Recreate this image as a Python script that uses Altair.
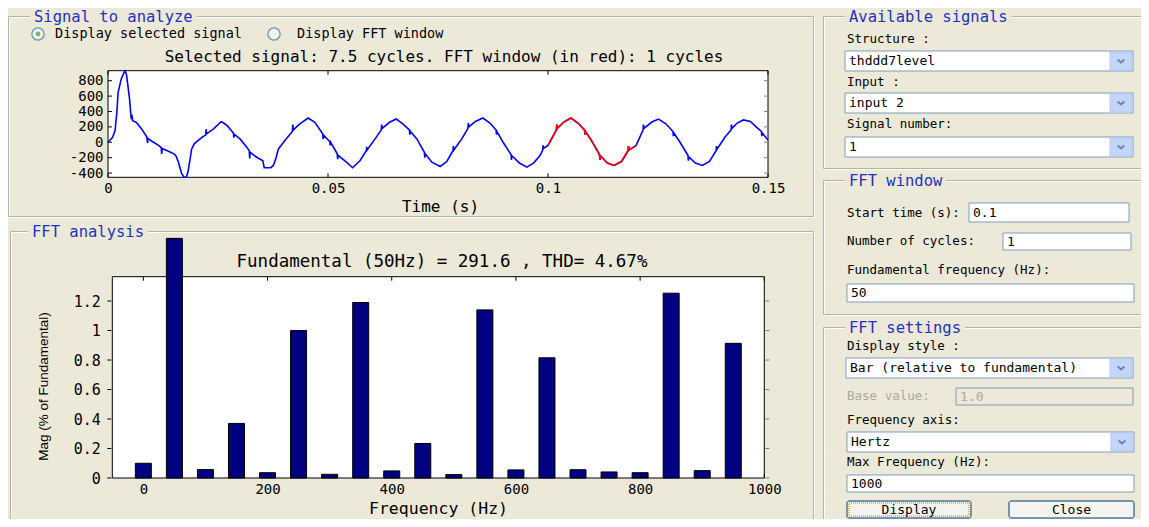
import altair as alt
import pandas as pd

# ---------------- data ----------------
sig_t = [0.0000, 0.0010, 0.0016, 0.0020, 0.0023, 0.0030, 0.0036, 0.0039, 0.0042, 0.0046,
         0.0049, 0.0051, 0.0053, 0.0054, 0.0056, 0.0065, 0.0078, 0.0088, 0.0090, 0.0091,
         0.0098, 0.0115, 0.0121, 0.0122, 0.0123, 0.0135, 0.0150, 0.0155, 0.0160, 0.0167,
         0.0173, 0.0178, 0.0182, 0.0186, 0.0190, 0.0196, 0.0203, 0.0215, 0.0222, 0.0223,
         0.0224, 0.0240, 0.0257, 0.0263, 0.0272, 0.0285, 0.0286, 0.0287, 0.0300, 0.0315,
         0.0321, 0.0322, 0.0323, 0.0338, 0.0352, 0.0355, 0.0370, 0.0376, 0.0382, 0.0387,
         0.0402, 0.0419, 0.0420, 0.0421, 0.0436, 0.0455, 0.0470, 0.0488, 0.0489, 0.0490,
         0.0504, 0.0505, 0.0506, 0.0521, 0.0522, 0.0523, 0.0542, 0.0556, 0.0573, 0.0587,
         0.0588, 0.0589, 0.0607, 0.0621, 0.0622, 0.0623, 0.0640, 0.0655, 0.0670, 0.0685,
         0.0686, 0.0687, 0.0702, 0.0719, 0.0720, 0.0721, 0.0736, 0.0755, 0.0770, 0.0784,
         0.0785, 0.0786, 0.0804, 0.0818, 0.0819, 0.0820, 0.0835, 0.0852, 0.0868, 0.0882,
         0.0883, 0.0884, 0.0898, 0.0916, 0.0917, 0.0918, 0.0935, 0.0952, 0.0967, 0.0982,
         0.0988, 0.0989, 0.0990, 0.1000, 0.1019, 0.1020, 0.1021, 0.1035, 0.1052, 0.1068,
         0.1083, 0.1084, 0.1085, 0.1099, 0.1117, 0.1118, 0.1119, 0.1135, 0.1150, 0.1167,
         0.1182, 0.1183, 0.1184, 0.1200, 0.1216, 0.1217, 0.1218, 0.1235, 0.1251, 0.1268,
         0.1284, 0.1285, 0.1286, 0.1300, 0.1318, 0.1319, 0.1320, 0.1335, 0.1351, 0.1367,
         0.1382, 0.1383, 0.1384, 0.1402, 0.1416, 0.1417, 0.1418, 0.1430, 0.1444, 0.1460,
         0.1475, 0.1485, 0.1486, 0.1487, 0.1500]
sig_v = [0, 60, 150, 380, 650, 820, 900, 925, 880, 700,
         560, 420, 300, 360, 280, 255, 160, 70, -10, 50,
         20, -40, -70, -150, -80, -110, -150, -180, -260, -400,
         -455, -455, -380, -237, -90, -20, 15, 70, 95, 170,
         110, 175, 268, 250, 210, 120, 60, 105, 44, -60,
         -110, -210, -130, -194, -240, -330, -330, -300, -200, -90,
         22, 140, 230, 160, 238, 315, 260, 110, 40, 90,
         10, -40, 0, -150, -220, -170, -259, -331, -237, -110,
         -60, -100, 44, 160, 230, 180, 260, 302, 240, 160,
         100, 145, 44, -130, -200, -150, -259, -314, -250, -110,
         -50, -100, 44, 180, 250, 200, 270, 315, 250, 160,
         100, 140, 0, -160, -230, -175, -270, -323, -270, -172,
         -100, -40, -80, -40, 160, 230, 180, 260, 315, 250,
         160, 100, 140, 22, -160, -230, -175, -270, -301, -250,
         -110, -50, -100, -43, 160, 230, 180, 260, 302, 240,
         140, 80, 120, 0, -170, -240, -190, -270, -301, -250,
         -110, -50, -90, 65, 160, 230, 180, 250, 290, 270,
         190, 140, 80, 120, 31]
fft_window = [0.1, 0.12]

freq_hz = [0, 50, 100, 150, 200, 250, 300, 350, 400, 450,
           500, 550, 600, 650, 700, 750, 800, 850, 900, 950]
mag_pct = [0.10, 1.625, 0.057, 0.37, 0.036, 1.00, 0.025, 1.19, 0.048, 0.234,
           0.023, 1.14, 0.055, 0.815, 0.056, 0.041, 0.036, 1.253, 0.05, 0.913]

time_domain = [0, 0.15]
signal_domain = [-455, 930]
freq_domain = [-50, 1000]
mag_domain = [0, 1.365]

time_ticks = [0, 0.05, 0.1, 0.15]
signal_ticks = [-400, -200, 0, 200, 400, 600, 800]
freq_ticks = [0, 200, 400, 600, 800, 1000]
mag_ticks = [0, 0.2, 0.4, 0.6, 0.8, 1, 1.2]

top_title = "Selected signal: 7.5 cycles. FFT window (in red): 1 cycles"
fft_title = "Fundamental (50Hz) = 291.6 , THD= 4.67%"

# ---------------- GUI text ----------------
group_titles = ["Signal to analyze", "FFT analysis", "Available signals", "FFT window", "FFT settings"]
radio_labels = ["Display selected signal", "Display FFT window"]
field_labels = ["Structure :", "Input :", "Signal number:", "Start time (s):", "Number of cycles:",
                "Fundamental frequency (Hz):", "Display style :", "Base value:", "Frequency axis:",
                "Max Frequency (Hz):"]
box_texts = ["thddd7level", "input 2", "1", "0.1", "1", "50",
             "Bar (relative to fundamental)", "1.0", "Hertz", "1000"]
box_is_dropdown = [True, True, True, False, False, False, True, False, True, False]
box_enabled = [True, True, True, True, True, True, True, False, True, True]
button_labels = ["Display", "Close"]

# ---------------- layout (pixels, kept apart from the data) ----------------
W, H = 1133, 511
FONT = "DejaVu Sans Mono"
BG = "#ECE9D8"
TOP_X = [100, 760]
TOP_Y = [169.3, 62.7]
BOT_X = [99.3, 761.3]
BOT_Y = [470, 268.7]

GROUP_FS = 15.5
GUI_FS = 13.5
LABEL_FS = 12.5

group_x0 = [0.5, 2.5, 815.5, 815.5, 815.5]
group_x1 = [805.5, 805.5, 1140.5, 1140.5, 1140.5]
group_y0 = [8.5, 223.5, 8.5, 172.5, 319.5]
group_y1 = [208.5, 530.5, 160.5, 306.5, 530.5]
group_tx = [22, 20, 837, 837, 837]

radio_x = [30, 266]
radio_tx = [47, 289]
radio_y = 26

label_x = 839
label_y = [31, 74, 116, 205, 233, 262, 338, 388, 412, 454]
box_x0 = [837, 837, 837, 961, 995, 839, 838, 948, 839, 839]
box_x1 = [1125, 1125, 1125, 1121, 1123, 1126, 1125, 1125, 1126, 1126]
box_y0 = [43, 85, 129, 195, 225, 276, 350, 380, 424, 467]
box_y1 = [63, 105, 149, 214, 242, 294, 370, 397, 444, 484]

btn_x0 = [839, 1001]
btn_x1 = [963, 1126]
btn_y0 = 493
btn_y1 = 510

NONE_X = dict(scale=None, axis=None)

# ---------------- scales & axes ----------------
xs_t = alt.Scale(domain=time_domain, range=TOP_X, nice=False, zero=False)
ys_v = alt.Scale(domain=signal_domain, range=TOP_Y, nice=False, zero=False)
xs_f = alt.Scale(domain=freq_domain, range=BOT_X, nice=False, zero=False)
ys_m = alt.Scale(domain=mag_domain, range=BOT_Y, nice=False, zero=False)

common_axis = dict(ticks=False, domain=False, grid=False, labelFont=FONT, labelFontSize=14,
                   labelColor="black", labelFlush=False, labelOverlap=False, labelBound=False,
                   labelExpr="'' + datum.value", titleFont=FONT, titleFontSize=16,
                   titleFontWeight="normal", titleColor="black")

ax_t = alt.Axis(orient="bottom", offset=TOP_Y[0] - H, values=time_ticks, labelPadding=4,
                title="Time (s)", titleX=432, titleY=29, titleBaseline="middle",
                titleAlign="center", **common_axis)
ax_v = alt.Axis(orient="left", offset=-TOP_X[0], values=signal_ticks, labelPadding=5,
                title="", **common_axis)
ax_f_kw = dict(common_axis)
ax_f_kw.update(titleFontSize=16.5, labelFontSize=14)
ax_f = alt.Axis(orient="bottom", offset=BOT_Y[0] - H, values=freq_ticks, labelPadding=4,
                title="Frequency (Hz)", titleX=430, titleY=30, titleBaseline="middle",
                titleAlign="center", **ax_f_kw)
ax_m_kw = dict(common_axis)
ax_m_kw.update(titleFont="Liberation Sans", titleFontSize=13.5, labelFontSize=15)
ax_m = alt.Axis(orient="left", offset=-BOT_X[0], values=mag_ticks, labelPadding=7,
                title="Mag (% of Fundamental)", titleAngle=270, titleX=-64, titleY=378,
                titleBaseline="middle", titleAlign="center", **ax_m_kw)

one = pd.DataFrame({"k": [0]})

# ---------------- top plot: signal ----------------
sig_df = pd.DataFrame({"t": sig_t, "v": sig_v})
tt_df = pd.DataFrame({"tick": time_ticks})
st_df = pd.DataFrame({"tick": signal_ticks})

top_box = alt.Chart(one).mark_rect(fill="white", stroke="black", strokeWidth=1).encode(
    x=alt.X(datum=time_domain[0], type="quantitative", scale=xs_t, axis=ax_t),
    x2=alt.X2(datum=time_domain[1]),
    y=alt.Y(datum=signal_domain[0], type="quantitative", scale=ys_v, axis=ax_v),
    y2=alt.Y2(datum=signal_domain[1]),
)
sig_line = alt.Chart(sig_df).mark_line(color="#0000FF", strokeWidth=1.6).encode(
    x=alt.X("t:Q", scale=xs_t, axis=ax_t), y=alt.Y("v:Q", scale=ys_v, axis=ax_v))
win_line = alt.Chart(sig_df).transform_filter(
    (alt.datum.t >= fft_window[0]) & (alt.datum.t <= fft_window[1])
).mark_line(color="#FF0000", strokeWidth=1.6).encode(
    x=alt.X("t:Q", scale=xs_t, axis=ax_t), y=alt.Y("v:Q", scale=ys_v, axis=ax_v))


def xticks(df, xs, ax, ybot, ytop, color="black"):
    b = alt.Chart(df).mark_rule(color=color, strokeWidth=1).encode(
        x=alt.X("tick:Q", scale=xs, axis=ax), y=alt.value(ybot), y2=alt.value(ybot - 4))
    t = alt.Chart(df).mark_rule(color=color, strokeWidth=1).encode(
        x=alt.X("tick:Q", scale=xs, axis=ax), y=alt.value(ytop), y2=alt.value(ytop + 4))
    return [b, t]


def yticks(df, ys, ax, xl, xr, color="black"):
    l = alt.Chart(df).mark_rule(color=color, strokeWidth=1).encode(
        y=alt.Y("tick:Q", scale=ys, axis=ax), x=alt.value(xl), x2=alt.value(xl + 4))
    r = alt.Chart(df).mark_rule(color="#808080", strokeWidth=1).encode(
        y=alt.Y("tick:Q", scale=ys, axis=ax), x=alt.value(xr), x2=alt.value(xr - 4))
    return [l, r]


top_plot = alt.layer(top_box, sig_line, win_line,
                     *xticks(tt_df, xs_t, ax_t, TOP_Y[0], TOP_Y[1]),
                     *yticks(st_df, ys_v, ax_v, TOP_X[0], TOP_X[1]))

# ---------------- bottom plot: FFT bars ----------------
fft_df = pd.DataFrame({"f": freq_hz, "m": mag_pct})
ft_df = pd.DataFrame({"tick": freq_ticks})
mt_df = pd.DataFrame({"tick": mag_ticks})

bot_box = alt.Chart(one).mark_rect(fill="white", stroke="black", strokeWidth=1).encode(
    x=alt.X(datum=freq_domain[0], type="quantitative", scale=xs_f, axis=ax_f),
    x2=alt.X2(datum=freq_domain[1]),
    y=alt.Y(datum=mag_domain[0], type="quantitative", scale=ys_m, axis=ax_m),
    y2=alt.Y2(datum=mag_domain[1]),
)
bars = alt.Chart(fft_df).mark_bar(size=16, color="#000080", stroke="black", strokeWidth=1).encode(
    x=alt.X("f:Q", scale=xs_f, axis=ax_f), y=alt.Y("m:Q", scale=ys_m, axis=ax_m))

bot_plot = alt.layer(bot_box, bars,
                     *xticks(ft_df, xs_f, ax_f, BOT_Y[0], BOT_Y[1]),
                     *yticks(mt_df, ys_m, ax_m, BOT_X[0], BOT_X[1]))

# ---------------- GUI decoration ----------------
gdf = pd.DataFrame({"title": group_titles, "x0": group_x0, "x1": group_x1,
                    "y0": group_y0, "y1": group_y1, "tx": group_tx})
gdf["tw"] = gdf["title"].str.len() * 0.602 * GROUP_FS + 8
gdf["tx1"] = gdf["tx"] + gdf["tw"]
gdf["x0w"] = gdf["x0"] + 1
gdf["y0w"] = gdf["y0"] + 1
gdf["x1w"] = gdf["x1"] + 1
gdf["y1w"] = gdf["y1"] + 1
gdf["tyt"] = gdf["y0"] - 8
gdf["tyb"] = gdf["y0"] + 8
gdf["txt"] = gdf["tx"] + 4
gdf["ty"] = gdf["y0"] + 0.5

frame_white = alt.Chart(gdf).mark_rect(fillOpacity=0, stroke="white", strokeWidth=1).encode(
    x=alt.X("x0w:Q", **NONE_X), x2="x1w:Q", y=alt.Y("y0w:Q", **NONE_X), y2="y1w:Q")
frame_gray = alt.Chart(gdf).mark_rect(fillOpacity=0, stroke="#B5B4A4", strokeWidth=1).encode(
    x=alt.X("x0:Q", **NONE_X), x2="x1:Q", y=alt.Y("y0:Q", **NONE_X), y2="y1:Q")
title_bg = alt.Chart(gdf).mark_rect(color=BG).encode(
    x=alt.X("tx:Q", **NONE_X), x2="tx1:Q", y=alt.Y("tyt:Q", **NONE_X), y2="tyb:Q")
title_txt = alt.Chart(gdf).mark_text(align="left", baseline="middle", font=FONT, fontSize=GROUP_FS,
                                     color="#2233C4").encode(
    x=alt.X("txt:Q", **NONE_X), y=alt.Y("ty:Q", **NONE_X), text="title:N")

rdf = pd.DataFrame({"label": radio_labels, "x": radio_x, "tx": radio_tx, "y": [radio_y] * 2,
                    "on": [True, False]})
radio_circ = alt.Chart(rdf).mark_point(shape="circle", filled=True, size=150, fill="#F6F6F2",
                                       stroke="#3A6EA5", strokeWidth=1.3).encode(
    x=alt.X("x:Q", **NONE_X), y=alt.Y("y:Q", **NONE_X))
radio_dot = alt.Chart(rdf).transform_filter(alt.datum.on).mark_point(
    shape="circle", filled=True, size=24, color="#2BAE2B").encode(
    x=alt.X("x:Q", **NONE_X), y=alt.Y("y:Q", **NONE_X))
radio_txt = alt.Chart(rdf).mark_text(align="left", baseline="middle", font=FONT, fontSize=GUI_FS,
                                     color="black").encode(
    x=alt.X("tx:Q", **NONE_X), y=alt.Y("y:Q", **NONE_X), text="label:N")

ptdf = pd.DataFrame({"label": [top_title, fft_title], "x": [436, 434], "y": [49, 254]})
plot_title_top = alt.Chart(ptdf.iloc[[0]]).mark_text(
    align="center", baseline="middle", font=FONT, fontSize=16, color="black").encode(
    x=alt.X("x:Q", **NONE_X), y=alt.Y("y:Q", **NONE_X), text="label:N")
plot_title_bot = alt.Chart(ptdf.iloc[[1]]).mark_text(
    align="center", baseline="middle", font=FONT, fontSize=17.5, color="black").encode(
    x=alt.X("x:Q", **NONE_X), y=alt.Y("y:Q", **NONE_X), text="label:N")

ldf = pd.DataFrame({"label": field_labels, "y": label_y, "x": [label_x] * len(field_labels),
                    "enabled": [lbl != "Base value:" for lbl in field_labels]})
labels = alt.Chart(ldf).mark_text(align="left", baseline="middle", font=FONT, fontSize=LABEL_FS).encode(
    x=alt.X("x:Q", **NONE_X), y=alt.Y("y:Q", **NONE_X), text="label:N",
    color=alt.condition(alt.datum.enabled, alt.value("black"), alt.value("#ACA899")))

bdf = pd.DataFrame({"text": box_texts, "x0": box_x0, "x1": box_x1, "y0": box_y0, "y1": box_y1,
                    "dd": box_is_dropdown, "en": box_enabled})
bdf["tx"] = bdf["x0"] + 4
bdf["ym"] = (bdf["y0"] + bdf["y1"]) / 2
bdf["ax0"] = bdf["x1"] - 23
bdf["ax1"] = bdf["x1"] - 1
bdf["ay0"] = bdf["y0"] + 1
bdf["ay1"] = bdf["y1"] - 1
bdf["axm"] = bdf["x1"] - 12

boxes = alt.Chart(bdf).mark_rect(stroke="#7F9DB9", strokeWidth=1).encode(
    x=alt.X("x0:Q", **NONE_X), x2="x1:Q", y=alt.Y("y0:Q", **NONE_X), y2="y1:Q",
    fill=alt.condition(alt.datum.en, alt.value("white"), alt.value(BG)))
dd = bdf[bdf["dd"]]
arrows_bg = alt.Chart(dd).mark_rect(color="#C4D5FA", stroke="#B4C8F6").encode(
    x=alt.X("ax0:Q", **NONE_X), x2="ax1:Q", y=alt.Y("ay0:Q", **NONE_X), y2="ay1:Q")
arrows = alt.Chart(dd).mark_point(shape="M-1,-0.45L0,0.45L1,-0.45", filled=False, size=45,
                                  color="#4D6185", strokeWidth=2).encode(
    x=alt.X("axm:Q", **NONE_X), y=alt.Y("ym:Q", **NONE_X))
box_txt = alt.Chart(bdf).mark_text(align="left", baseline="middle", font=FONT, fontSize=13).encode(
    x=alt.X("tx:Q", **NONE_X), y=alt.Y("ym:Q", **NONE_X), text="text:N",
    color=alt.condition(alt.datum.en, alt.value("black"), alt.value("#ACA899")))

btdf = pd.DataFrame({"label": button_labels, "x0": btn_x0, "x1": btn_x1,
                     "y0": [btn_y0] * 2, "y1": [btn_y1] * 2, "focus": [True, False]})
btdf["xm"] = (btdf["x0"] + btdf["x1"]) / 2
btdf["ym"] = (btdf["y0"] + btdf["y1"]) / 2
btdf["fx0"] = btdf["x0"] + 2
btdf["fx1"] = btdf["x1"] - 2
btdf["fy0"] = btdf["y0"] + 2
btdf["fy1"] = btdf["y1"] - 2
buttons = alt.Chart(btdf).mark_rect(fill="#F4F3EE", stroke="#003C74", strokeWidth=1,
                                    cornerRadius=2).encode(
    x=alt.X("x0:Q", **NONE_X), x2="x1:Q", y=alt.Y("y0:Q", **NONE_X), y2="y1:Q")
focus = alt.Chart(btdf).transform_filter(alt.datum.focus).mark_rect(
    fillOpacity=0, stroke="#E8A630", strokeWidth=1.5, strokeDash=[1, 1]).encode(
    x=alt.X("fx0:Q", **NONE_X), x2="fx1:Q", y=alt.Y("fy0:Q", **NONE_X), y2="fy1:Q")
btn_txt = alt.Chart(btdf).mark_text(align="center", baseline="middle", font=FONT, fontSize=13,
                                    color="black").encode(
    x=alt.X("xm:Q", **NONE_X), y=alt.Y("ym:Q", **NONE_X), text="label:N")

chart = alt.layer(
    frame_white, frame_gray, title_bg, title_txt,
    radio_circ, radio_dot, radio_txt,
    top_plot, bot_plot, plot_title_top, plot_title_bot,
    labels, boxes, arrows_bg, arrows, box_txt, buttons, focus, btn_txt,
).resolve_scale(x="independent", y="independent").properties(
    width=W, height=H, autosize=alt.AutoSizeParams(type="none"), padding=0,
    background=BG,
).configure_view(strokeWidth=0)

chart.save("out.html", embed_options={"renderer": "svg", "actions": False})
